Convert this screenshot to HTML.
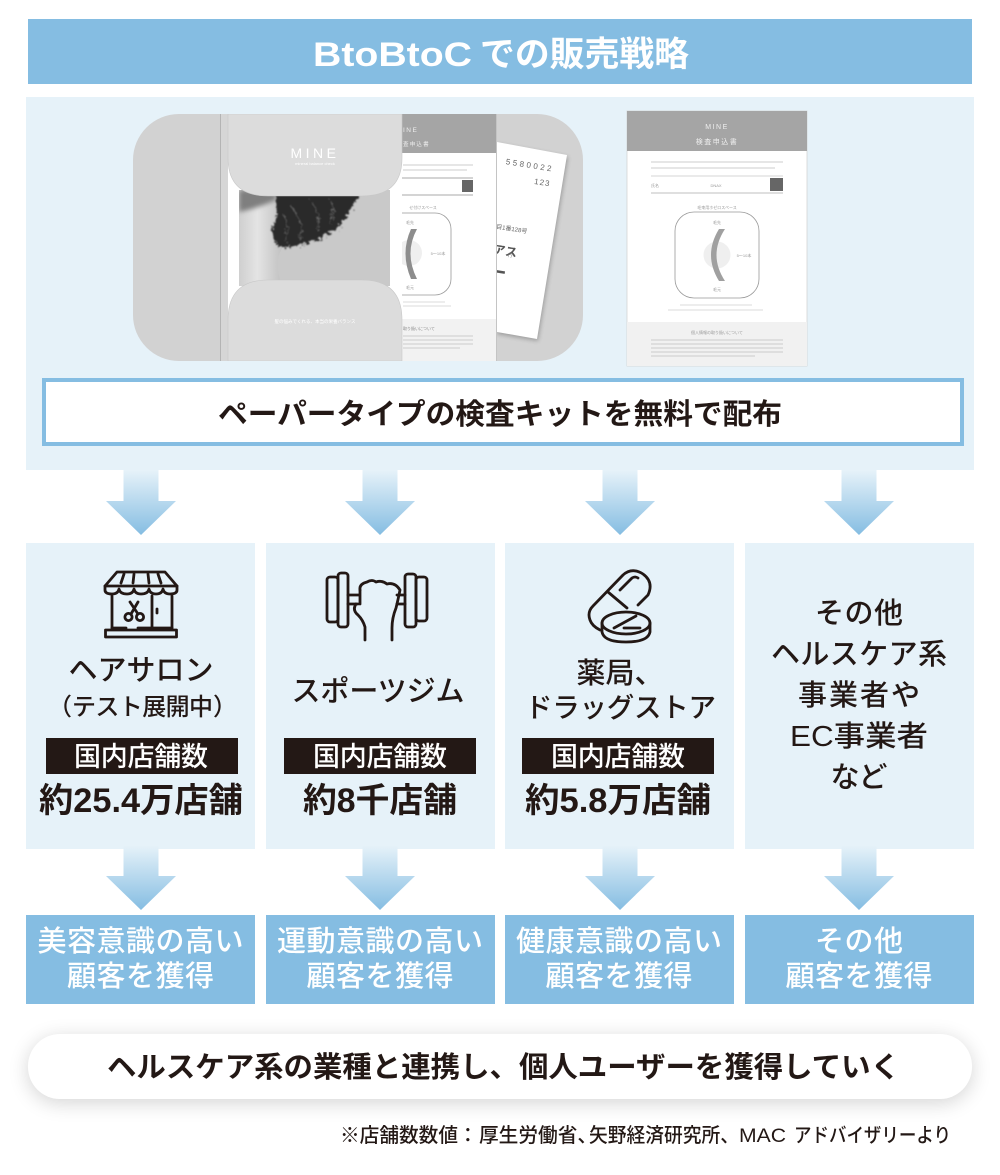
<!DOCTYPE html>
<html lang="ja">
<head>
<meta charset="utf-8">
<title>BtoBtoCでの販売戦略</title>
<style>
html,body{margin:0;padding:0;background:#fff;width:1000px;height:1175px;overflow:hidden}
svg{display:block}
text{font-family:"Liberation Sans","Noto Sans CJK JP",sans-serif;fill:#231815;text-anchor:middle}
.m{font-weight:500}
.b{font-weight:700}
.w{fill:#fff}
.s{text-anchor:start}
.ic{fill:none;stroke:#231815;stroke-width:2.8;stroke-linecap:round;stroke-linejoin:round}
.tiny{fill:#999;font-size:4px}
.ln{stroke:#bbb;stroke-width:1.2}
.j{font-family:"Noto Sans CJK JP",sans-serif}
</style>
</head>
<body>
<svg width="1000" height="1175" viewBox="0 0 1000 1175" xmlns="http://www.w3.org/2000/svg">
<defs>
<linearGradient id="ar" x1="0" y1="0" x2="0" y2="1">
<stop offset="0" stop-color="#e6f2f9" stop-opacity="0"/>
<stop offset="0.14" stop-color="#e6f2f9"/>
<stop offset="1" stop-color="#85bde2"/>
</linearGradient>
<filter id="sh" x="-10%" y="-80%" width="120%" height="260%"><feGaussianBlur stdDeviation="10"/></filter>
<filter id="hair" x="-15%" y="-15%" width="130%" height="130%">
<feTurbulence type="fractalNoise" baseFrequency="0.3" numOctaves="2" seed="7" result="n"/>
<feDisplacementMap in="SourceGraphic" in2="n" scale="9"/>
<feGaussianBlur stdDeviation="0.9"/>
</filter>
<filter id="bs" x="-5%" y="-5%" width="110%" height="110%"><feGaussianBlur stdDeviation="0.35"/></filter>
<filter id="rs" x="-20%" y="-20%" width="140%" height="140%"><feGaussianBlur stdDeviation="2"/></filter>
<filter id="soft" x="-20%" y="-40%" width="140%" height="180%"><feGaussianBlur stdDeviation="2.500"/></filter>
<linearGradient id="neck" x1="0" y1="0" x2="1" y2="0">
<stop offset="0" stop-color="#cfcfcf"/><stop offset="0.4" stop-color="#e4e4e4"/><stop offset="1" stop-color="#bdbdbd"/>
</linearGradient>
<clipPath id="kitc"><rect x="133" y="114" width="450" height="247" rx="46"/></clipPath>
<clipPath id="phc"><rect x="239" y="190" width="151" height="96"/></clipPath>
<symbol id="arrow" viewBox="0 0 70 75" overflow="visible">
<path d="M17.500 0H52.500V41H70L35 75L0 41H17.500Z" fill="url(#ar)"/>
</symbol>
</defs>

<!-- title -->
<rect x="28" y="19" width="944" height="65" fill="#85bde2"/>
<text class="b w s" x="313" y="66" font-size="34" textLength="159" lengthAdjust="spacingAndGlyphs">BtoBtoC</text>
<text class="b w s" x="480" y="66" font-size="34.500" textLength="209" lengthAdjust="spacingAndGlyphs">での販売戦略</text>

<!-- top panel -->
<rect x="26" y="97" width="948" height="373" fill="#e6f2f9"/>

<!-- kit -->
<g clip-path="url(#kitc)" filter="url(#bs)">
<rect x="133" y="114" width="450" height="247" fill="#d2d2d2"/>
<rect x="220" y="114" width="1" height="247" fill="#b4b4b4"/>
<rect x="221" y="114" width="7" height="247" fill="#d6d6d6"/>
<!-- receipt -->
<polygon points="497,144 568,157 538,341 497,334" fill="#000" opacity=".25" filter="url(#rs)"/>
<polygon points="497,142 567,155 537,339 497,332" fill="#fff"/>
<g transform="rotate(9 530 165)">
<text x="530" y="168" font-size="8" style="fill:#666;letter-spacing:2.500px">5580022</text>
<text x="545" y="183" font-size="8" style="fill:#666;letter-spacing:1px">123</text>
<text class="s" x="497" y="233" font-size="6" style="fill:#666">コ7目1番128号</text>
<text class="s" x="497" y="243" font-size="6" style="fill:#666">ータ</text>
<text class="s" x="495" y="258" font-size="12" style="fill:#555;font-weight:700">ビアス</text>
<text class="s" x="522" y="259" font-size="5" style="fill:#777">行</text>
<rect x="493" y="274" width="29" height="2.500" fill="#555"/>
</g>
<!-- form behind -->
<rect x="400" y="114" width="96" height="247" fill="#fff"/>
<rect x="400" y="114" width="96" height="39" fill="#a5a5a5"/>
<rect x="400" y="319" width="96" height="42" fill="#f2f2f2"/>
<rect x="496" y="114" width="1" height="247" fill="#c4c4c4"/>
<text class="s" x="403" y="132" font-size="6.500" style="fill:#eee;letter-spacing:1.500px">INE</text>
<text class="s" x="403" y="146" font-size="5.500" style="fill:#eee;letter-spacing:1.200px">査申込書</text>
<line class="ln" x1="403" y1="165" x2="473" y2="165" style="stroke:#d8d8d8"/>
<line class="ln" x1="403" y1="170" x2="467" y2="170" style="stroke:#d8d8d8"/>
<line class="ln" x1="402" y1="178" x2="473" y2="178"/>
<line class="ln" x1="402" y1="195" x2="473" y2="195"/>
<rect x="462" y="180" width="11" height="12" fill="#666"/>
<text x="423" y="209" class="tiny">せ付けスペース</text>
<rect x="372" y="213" width="79" height="82" rx="16" fill="none" stroke="#999" stroke-width=".8"/>
<circle cx="409" cy="253" r="13" fill="#efefef"/>
<path d="M417 229Q404 253 417 279L411 279Q400 253 411 229Z" fill="#8d8d8d"/>
<text x="438" y="255" class="tiny">5～10本</text>
<text x="410" y="224" class="tiny">毛先</text>
<text x="410" y="289" class="tiny">毛元</text>
<line class="ln" x1="403" y1="302" x2="445" y2="302" style="stroke:#e2e2e2"/>
<line class="ln" x1="403" y1="306" x2="451" y2="306" style="stroke:#e2e2e2"/>
<text class="s" x="403" y="330" font-size="4" style="fill:#888">取り扱いについて</text>
<line class="ln" x1="403" y1="336" x2="473" y2="336" style="stroke:#d4d4d4"/>
<line class="ln" x1="403" y1="340" x2="473" y2="340" style="stroke:#d4d4d4"/>
<line class="ln" x1="403" y1="344" x2="473" y2="344" style="stroke:#d4d4d4"/>
<line class="ln" x1="403" y1="348" x2="460" y2="348" style="stroke:#d4d4d4"/>
<!-- booklet -->
<rect x="228" y="114" width="174" height="247" fill="#fff"/>
<g clip-path="url(#phc)">
<rect x="239" y="190" width="151" height="96" fill="#c9c9c9"/>
<path d="M239 190H285V245Q272 258 282 286H239Z" fill="url(#neck)"/>
<path d="M239 212Q258 208 276 200L276 190H239Z" fill="#7f7f7f" filter="url(#soft)"/>
<path d="M275 190H360L352 208L338 228L318 240L296 246L278 248L272 232L277 212Z" fill="#2a2a2a" filter="url(#hair)"/>
<path d="M290 205Q305 222 300 240M310 200Q322 215 318 232M330 200Q336 210 330 224M284 215Q290 228 285 242" fill="none" stroke="#6a6a6a" stroke-width="1" filter="url(#hair)"/>
</g>
<path d="M228 114H402V158Q402 196 362 196H268Q228 196 228 158Z" fill="#dcdcdc" stroke="#c8c8c8" stroke-width=".6"/>
<path d="M228 361V320Q228 280 268 280H362Q402 280 402 320V361Z" fill="#dcdcdc" stroke="#c8c8c8" stroke-width=".6"/>
<text x="315" y="158" font-size="14" style="fill:#fff;letter-spacing:3.500px;font-weight:400">MINE</text>
<text x="315" y="165" font-size="4" style="fill:#fff">mineral balance check</text>
<text x="315" y="323" font-size="4.500" style="fill:#fff">髪の悩みでくれる、本当の栄養バランス</text>
</g>

<!-- sheet -->
<g filter="url(#bs)">
<rect x="627" y="111" width="180" height="255" fill="#fff" stroke="#d4d4d4" stroke-width=".8"/>
<rect x="627" y="111" width="180" height="40" fill="#a5a5a5"/>
<rect x="627" y="322" width="180" height="44" fill="#f1f1f1"/>
<text x="717" y="129" font-size="7" style="fill:#eee;letter-spacing:1.500px">MINE</text>
<text x="717" y="144" font-size="7" style="fill:#eee;letter-spacing:1.500px">検査申込書</text>
<line class="ln" x1="651" y1="162" x2="783" y2="162" style="stroke:#d8d8d8"/>
<line class="ln" x1="651" y1="168" x2="775" y2="168" style="stroke:#d8d8d8"/>
<line class="ln" x1="651" y1="176" x2="783" y2="176" style="stroke:#ddd"/>
<line class="ln" x1="651" y1="193" x2="783" y2="193" style="stroke:#ccc"/>
<rect x="770" y="178" width="13" height="13" fill="#666"/>
<text x="655" y="187" class="tiny">氏名</text>
<text x="716" y="187" class="tiny">DNAX</text>
<text x="717" y="209" class="tiny" font-size="4">毛束用ホゼロスペース</text>
<rect x="675" y="212" width="84" height="86" rx="19" fill="#fff" stroke="#999" stroke-width=".8"/>
<circle cx="717" cy="255" r="13.500" fill="#efefef"/>
<path d="M725 229Q708 255 725 281L719 281Q703 255 719 229Z" fill="#a0a0a0"/>
<text x="744" y="257" class="tiny">5～10本</text>
<text x="717" y="224" class="tiny">毛先</text>
<text x="717" y="291" class="tiny">毛元</text>
<line class="ln" x1="680" y1="305" x2="752" y2="305" style="stroke:#e2e2e2"/>
<line class="ln" x1="668" y1="310" x2="763" y2="310" style="stroke:#e2e2e2"/>
<text x="717" y="334" class="tiny">個人情報の取り扱いについて</text>
<line class="ln" x1="651" y1="340" x2="783" y2="340" style="stroke:#d4d4d4"/>
<line class="ln" x1="651" y1="344" x2="783" y2="344" style="stroke:#d4d4d4"/>
<line class="ln" x1="651" y1="348" x2="783" y2="348" style="stroke:#d4d4d4"/>
<line class="ln" x1="651" y1="352" x2="783" y2="352" style="stroke:#d4d4d4"/>
<line class="ln" x1="651" y1="356" x2="755" y2="356" style="stroke:#d4d4d4"/>
</g>

<!-- distribution box -->
<rect x="44" y="380" width="918" height="64" fill="#fff" stroke="#85bde2" stroke-width="4"/>
<text class="b" x="500" y="424" font-size="29" textLength="564" lengthAdjust="spacingAndGlyphs">ペーパータイプの検査キットを無料で配布</text>

<!-- cards -->
<g fill="#e6f2f9">
<rect x="26" y="543" width="229" height="306"/>
<rect x="266" y="543" width="229" height="306"/>
<rect x="505" y="543" width="229" height="306"/>
<rect x="745" y="543" width="229" height="306"/>
</g>

<!-- upper arrows -->
<use href="#arrow" x="106" y="460" width="70" height="75"/>
<use href="#arrow" x="345" y="460" width="70" height="75"/>
<use href="#arrow" x="585" y="460" width="70" height="75"/>
<use href="#arrow" x="824" y="460" width="70" height="75"/>

<!-- store icon -->
<g class="ic">
<path d="M117 572H165L177 586H105Z"/>
<path d="M105 586V590Q105 594 112 594Q118 594 119 589Q120 594 127 594Q133 594 134 589Q135 594 141 594Q148 594 149 589Q150 594 156 594Q162 594 163 589Q164 594 170 594Q177 594 177 590V586"/>
<path d="M124 574L121 583M134 574L133 583M148 574L149 583M158 574L161 583"/>
<path d="M112 596V628M172 596V628M152 596V628"/>
<path d="M138 628H172M112 628H126"/>
<rect x="105.500" y="630" width="71" height="7"/>
<path d="M157 609V613"/>
<circle cx="128.500" cy="617" r="3.600"/>
<circle cx="140" cy="617" r="3.600"/>
<path d="M131 614L138 602M138 614L130 602"/>
</g>

<!-- dumbbell icon -->
<g class="ic">
<rect x="327" y="577" width="11" height="45" rx="3"/>
<rect x="338" y="573" width="10" height="54" rx="3"/>
<rect x="405" y="574" width="11" height="53" rx="3"/>
<rect x="416" y="577" width="11" height="44" rx="3"/>
<path d="M348 595H360M348 604H358M360 590V604"/>
<path d="M397 595H405M397 604H405"/>
<path d="M365 640V627Q363 620 358 615Q352 610 356 604M360 590Q359 584 367 582Q372 579 376 582Q382 580 387 584Q395 582 400 590Q398 600 396 608Q392 618 392 628V640"/>
</g>

<!-- pill icon -->
<g class="ic">
<path d="M600 630Q592 626 590 620Q587 612 593 606L623 575Q632 567 643 574Q654 582 648 595L638 605"/>
<path d="M608 592L627 608"/>
<path d="M620 590L632 578Q635 576 638 578"/>
<ellipse cx="626" cy="623" rx="24" ry="11"/>
<path d="M602 623V632Q604 642 626 642Q648 642 650 632V623"/>
<path d="M614 628L636 616M624 628H640"/>
</g>

<!-- card text -->
<text class="m" x="141" y="680" font-size="29" textLength="145">ヘアサロン</text>
<text class="m j s" x="48" y="715" font-size="24">（</text>
<text class="m" x="142.500" y="715" font-size="24" textLength="141">テスト展開中</text>
<text class="m j s" x="213" y="715" font-size="24">）</text>
<rect x="46" y="738" width="192" height="36" fill="#231815"/>
<text class="m w" x="141" y="766" font-size="27" textLength="134">国内店舗数</text>
<text class="b" x="141" y="812" font-size="34" textLength="204" lengthAdjust="spacingAndGlyphs">約25.4万店舗</text>

<text class="m" x="378" y="701" font-size="29" textLength="173">スポーツジム</text>
<rect x="284" y="738" width="192" height="36" fill="#231815"/>
<text class="m w" x="380" y="766" font-size="27" textLength="134">国内店舗数</text>
<text class="b" x="380" y="812" font-size="34" textLength="154" lengthAdjust="spacingAndGlyphs">約8千店舗</text>

<text class="m" x="620" y="683" font-size="29" textLength="87">薬局、</text>
<text class="m" x="620.500" y="717" font-size="27.500" textLength="191">ドラッグストア</text>
<rect x="522" y="738" width="192" height="36" fill="#231815"/>
<text class="m w" x="618" y="766" font-size="27" textLength="134">国内店舗数</text>
<text class="b" x="618" y="812" font-size="34" textLength="186" lengthAdjust="spacingAndGlyphs">約5.8万店舗</text>

<text class="m" x="859" y="623" font-size="29" textLength="88">その他</text>
<text class="m" x="859" y="664" font-size="29" textLength="176">ヘルスケア系</text>
<text class="m" x="859" y="705" font-size="29" textLength="122">事業者や</text>
<text class="m" x="859" y="746" font-size="29" textLength="138" lengthAdjust="spacingAndGlyphs">EC事業者</text>
<text class="m" x="859" y="787" font-size="29" textLength="57">など</text>

<!-- result boxes -->
<g fill="#85bde2">
<rect x="26" y="915" width="229" height="89"/>
<rect x="266" y="915" width="229" height="89"/>
<rect x="505" y="915" width="229" height="89"/>
<rect x="745" y="915" width="229" height="89"/>
</g>

<!-- lower arrows -->
<use href="#arrow" x="106" y="835" width="70" height="75"/>
<use href="#arrow" x="345" y="835" width="70" height="75"/>
<use href="#arrow" x="585" y="835" width="70" height="75"/>
<use href="#arrow" x="824" y="835" width="70" height="75"/>

<g class="m" font-size="29">
<text class="m w" x="140.500" y="951" textLength="206">美容意識の高い</text>
<text class="m w" x="140.500" y="986" textLength="147">顧客を獲得</text>
<text class="m w" x="380" y="951" textLength="206">運動意識の高い</text>
<text class="m w" x="380" y="986" textLength="147">顧客を獲得</text>
<text class="m w" x="619" y="951" textLength="206">健康意識の高い</text>
<text class="m w" x="619" y="986" textLength="147">顧客を獲得</text>
<text class="m w" x="859" y="951" textLength="88">その他</text>
<text class="m w" x="859" y="986" textLength="147">顧客を獲得</text>
</g>

<!-- pill -->
<rect x="28" y="1038" width="944" height="65" rx="32" fill="#000" opacity=".17" filter="url(#sh)"/>
<rect x="28" y="1034" width="944" height="65" rx="32" fill="#fff"/>
<text class="b" x="503.500" y="1077" font-size="29" textLength="793" lengthAdjust="spacingAndGlyphs">ヘルスケア系の業種と連携し、個人ユーザーを獲得していく</text>

<!-- footnote -->
<g font-size="19.700">
<text class="m s" x="340" y="1142" textLength="118" lengthAdjust="spacingAndGlyphs">※店舗数数値</text>
<text class="m s" x="458" y="1142">：</text>
<text class="m s" x="479" y="1142">厚生労働省、</text>
<text class="m s" x="589" y="1142" textLength="150" lengthAdjust="spacingAndGlyphs">矢野経済研究所、</text>
<text class="m s" x="739" y="1142" textLength="47" lengthAdjust="spacingAndGlyphs">MAC</text>
<text class="m s" x="794" y="1142" textLength="157" lengthAdjust="spacingAndGlyphs">アドバイザリーより</text>
</g>
</svg>
</body>
</html>
